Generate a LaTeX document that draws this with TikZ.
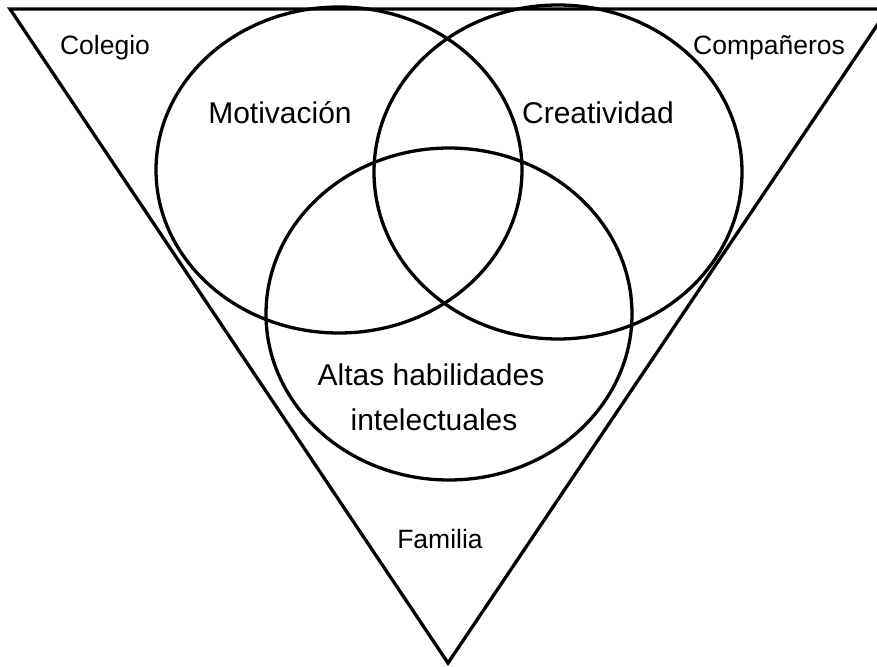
\documentclass[tikz,border=0pt]{standalone}
\usepackage{fontspec}
\setmainfont{Liberation Sans}
\begin{document}
\begin{tikzpicture}[x=1pt,y=-1pt,
  outline/.style={draw=black,line width=3.3pt},
  inner/.style={anchor=base,inner sep=0pt,font=\fontsize{30}{36}\selectfont},
  outer/.style={anchor=base,inner sep=0pt,font=\fontsize{26.5}{32}\selectfont}]
\useasboundingbox (0,0) rectangle (877,666);
\clip (0,0) rectangle (877,666);
\draw[outline,line join=miter] (10,9) -- (888,9) -- (448,663) -- cycle;
\draw[outline] (339,170) ellipse [x radius=183, y radius=163];
\draw[outline] (558,172) ellipse [x radius=184, y radius=167];
\draw[outline] (449,314) ellipse [x radius=183, y radius=166];
\node[outer] (colegio) at (105,55) {Colegio};
\node[outer] (comp) at (769,55) {Compañeros};
\node[inner] (motiv) at (280,124) {Motivación};
\node[inner] (creat) at (598,124) {Creatividad};
\node[inner] (altas) at (431,385) {Altas habilidades};
\node[inner] (intel) at (434,430) {intelectuales};
\node[outer] (fam) at (440,548) {Familia};
\end{tikzpicture}
\end{document}
